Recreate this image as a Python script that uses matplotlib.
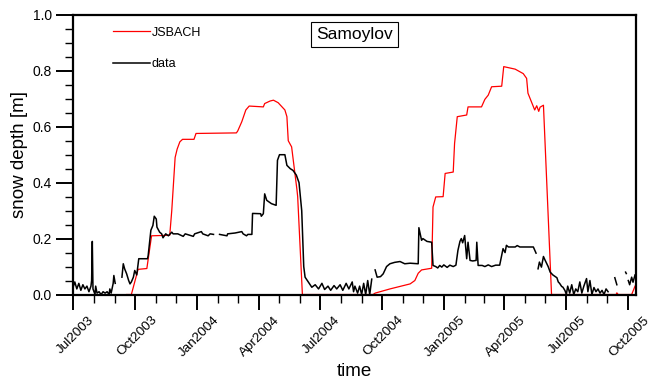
import matplotlib
matplotlib.use('Agg')
import matplotlib.pyplot as plt
import matplotlib.dates as mdates
import matplotlib.transforms as mtransforms
import numpy as np

plt.rcParams['font.family'] = ['Liberation Sans', 'DejaVu Sans']

start = np.datetime64('2003-07-01')
nan = np.nan

# JSBACH model snow depth (days since 2003-07-01, metres)
jsbach_day = [79, 86, 96, 109, 116, 143, 146, 151, 154, 158, 162, 179, 182, 242, 244,
              250, 256, 261, 282, 284, 292, 297, 304, 314, 317, 319, 324, 332, 333, 340,
              445, 448, 470, 485, 500, 507, 512, 517, 532, 534, 538, 549, 552, 564, 566,
              570, 584, 586, 606, 611, 616, 621, 636, 639, 656, 668, 673, 675, 680, 685,
              688, 691, 693, 698, 710, 806, 807, 809, 829, 834]
jsbach_depth = [0.0, 0.0, 0.09, 0.093, 0.21, 0.212, 0.30, 0.49, 0.52, 0.546, 0.555, 0.555, 0.576, 0.578, 0.585,
                0.618, 0.66, 0.674, 0.671, 0.683, 0.692, 0.695, 0.686, 0.66, 0.636, 0.55, 0.528, 0.373, 0.35, 0.0,
                0.0, 0.005, 0.02, 0.029, 0.038, 0.05, 0.076, 0.088, 0.094, 0.313, 0.349, 0.35, 0.433, 0.438, 0.54,
                0.636, 0.642, 0.671, 0.671, 0.698, 0.713, 0.743, 0.745, 0.815, 0.806, 0.79, 0.773, 0.72, 0.69, 0.66,
                0.675, 0.655, 0.67, 0.677, 0.0, 0.0, 0.006, 0.0, 0.0, 0.03]

# observed snow depth (nan = missing)
obs_day = [0, 2, 5, 8, 11, 14, 17, 20, 23, 26, 27, 28, 29, 32, 33, 35, 38, 41, 44, 47,
           50, 53, 54, 56, 59, 60, 62, 63,
           72, 74, 76, 79, 82, 84, 86, 89, 91, 94, 95, 97, 103, 110, 111, 115, 118, 120,
           123, 124, 128, 131, 133, 137, 141, 146, 148, 155, 163, 166, 178, 180, 190, 192,
           200, 203, 208, 209,
           217, 228, 229, 240, 250, 252, 257, 259, 265, 266, 278, 279, 282, 284, 287, 291,
           294, 301, 303, 306, 314, 317, 322, 326, 331, 335, 339, 342, 344, 349, 354, 359,
           364, 369, 373, 378, 382, 387, 391, 396, 400, 405, 409, 414, 416, 418, 422, 425,
           428, 431, 434, 437, 440, 443, 444,
           448, 451, 456, 460, 465, 470, 477, 485, 492, 500, 512, 513, 517, 519, 525, 532,
           534, 538, 541, 544, 547, 550, 555, 559, 564, 568, 571, 574, 576, 578, 581, 584,
           586, 589, 593, 598, 599, 601, 607, 611, 616, 621, 627, 633, 638, 641, 643, 646,
           656, 659, 663, 670, 683, 687, 688,
           690, 692, 695, 698, 700, 703, 705, 708, 712, 718, 720, 722, 725, 727, 730, 732,
           734, 737, 740, 743, 746, 749, 752, 755, 758, 762, 764, 767, 770, 773, 776, 779,
           782, 785, 788, 791, 794, 795,
           804, 807, 808, 820, 821, 822, 824, 826, 829, 831, 834]
obs_depth = [0.03, 0.045, 0.02, 0.04, 0.015, 0.035, 0.02, 0.03, 0.01, 0.03, 0.05, 0.19, 0.02, 0.0, 0.03, 0.005, 0.01, 0.0, 0.01, 0.005,
             0.01, 0.0, 0.02, 0.005, 0.04, 0.068, 0.04, nan,
             0.062, 0.11, 0.092, 0.074, 0.05, 0.038, 0.045, 0.062, 0.086, 0.07, 0.09, 0.128, 0.128, 0.128, 0.14, 0.23, 0.247, 0.28,
             0.27, 0.241, 0.223, 0.217, 0.203, 0.217, 0.21, 0.223, 0.217, 0.217, 0.208, 0.217, 0.208, 0.217, 0.225, 0.217,
             0.21, 0.217, 0.215, nan,
             0.215, 0.21, 0.217, 0.22, 0.225, 0.217, 0.21, 0.215, 0.215, 0.29, 0.289, 0.28, 0.289, 0.36, 0.337, 0.33,
             0.325, 0.319, 0.48, 0.50, 0.50, 0.462, 0.45, 0.444, 0.427, 0.40, 0.30, 0.10, 0.062, 0.044, 0.026, 0.035,
             0.02, 0.04, 0.018, 0.03, 0.015, 0.032, 0.02, 0.035, 0.015, 0.04, 0.02, 0.045, 0.01, 0.03, 0.005, 0.03,
             0.0, 0.04, 0.0, 0.05, 0.0, 0.055, nan,
             0.088, 0.062, 0.064, 0.074, 0.10, 0.11, 0.115, 0.118, 0.11, 0.112, 0.11, 0.239, 0.194, 0.2, 0.19, 0.187,
             0.104, 0.1, 0.095, 0.104, 0.098, 0.106, 0.097, 0.105, 0.1, 0.105, 0.158, 0.19, 0.2, 0.185, 0.211, 0.128,
             0.187, 0.122, 0.12, 0.122, 0.187, 0.104, 0.104, 0.1, 0.106, 0.1, 0.105, 0.105, 0.164, 0.15, 0.176, 0.17,
             0.17, 0.175, 0.17, 0.17, 0.17, 0.148, nan,
             0.092, 0.116, 0.098, 0.136, 0.125, 0.11, 0.1, 0.08, 0.07, 0.06, 0.045, 0.04, 0.029, 0.026, 0.014, 0.0,
             0.03, 0.005, 0.035, 0.0, 0.02, 0.01, 0.045, 0.005, 0.03, 0.057, 0.01, 0.05, 0.0, 0.025, 0.01, 0.02,
             0.005, 0.015, 0.0, 0.02, 0.01, nan,
             0.06, 0.035, nan, 0.08, 0.075, nan, 0.05, 0.035, 0.062, 0.044, 0.07]

jsbach_t = start + np.array(jsbach_day).astype('timedelta64[D]')
obs_t = start + np.array(obs_day).astype('timedelta64[D]')

fig = plt.figure(figsize=(6.5, 3.82), dpi=100)
ax = fig.add_axes([0.113, 0.229, 0.865, 0.732])

ax.plot(jsbach_t, jsbach_depth, color='red', linewidth=0.9, label='JSBACH')
ax.plot(obs_t, obs_depth, color='black', linewidth=1.1, label='data')

ax.set_xlim(start, start + np.timedelta64(835, 'D'))
ax.set_ylim(0, 1)

ax.xaxis.set_major_locator(mdates.MonthLocator(bymonth=[1, 4, 7, 10]))
ax.xaxis.set_minor_locator(mdates.MonthLocator())
ax.xaxis.set_major_formatter(mdates.DateFormatter('%b%Y'))
ax.set_yticks(np.arange(0, 1.01, 0.2))
ax.set_yticks(np.arange(0, 1.01, 0.05), minor=True)
ax.yaxis.set_major_formatter(matplotlib.ticker.FormatStrFormatter('%.1f'))

for s in ax.spines.values():
    s.set_linewidth(1.6)
ax.tick_params(which='major', direction='out', length=12, width=1.4, labelsize=10)
ax.tick_params(which='minor', direction='out', length=6, width=1.0)
ax.tick_params(axis='x', which='major', length=11, pad=3)
ax.tick_params(axis='x', which='minor', length=5.5)
shift = mtransforms.ScaledTranslation(1.5 / 100, 0, fig.dpi_scale_trans)
for lbl in ax.get_xticklabels():
    lbl.set_rotation(45)
    lbl.set_ha('center')
    lbl.set_fontsize(9.7)
    lbl.set_transform(lbl.get_transform() + shift)

ax.set_xlabel('time', fontsize=13.5, va='center')
ax.xaxis.set_label_coords(0.5, -0.277)
ax.set_ylabel('snow depth [m]', fontsize=13.5, labelpad=3)

ax.legend(loc='upper left', bbox_to_anchor=(0.07, 0.958), frameon=False, fontsize=9,
          handlelength=3.0, handletextpad=0.1, labelspacing=1.55, borderaxespad=0, borderpad=0)

ax.text(0.5, 0.93, 'Samoylov', transform=ax.transAxes, ha='center', va='center', fontsize=12.5,
        bbox=dict(boxstyle='square,pad=0.3', facecolor='white', edgecolor='black', linewidth=0.8))

fig.savefig('out.png', dpi=100)
